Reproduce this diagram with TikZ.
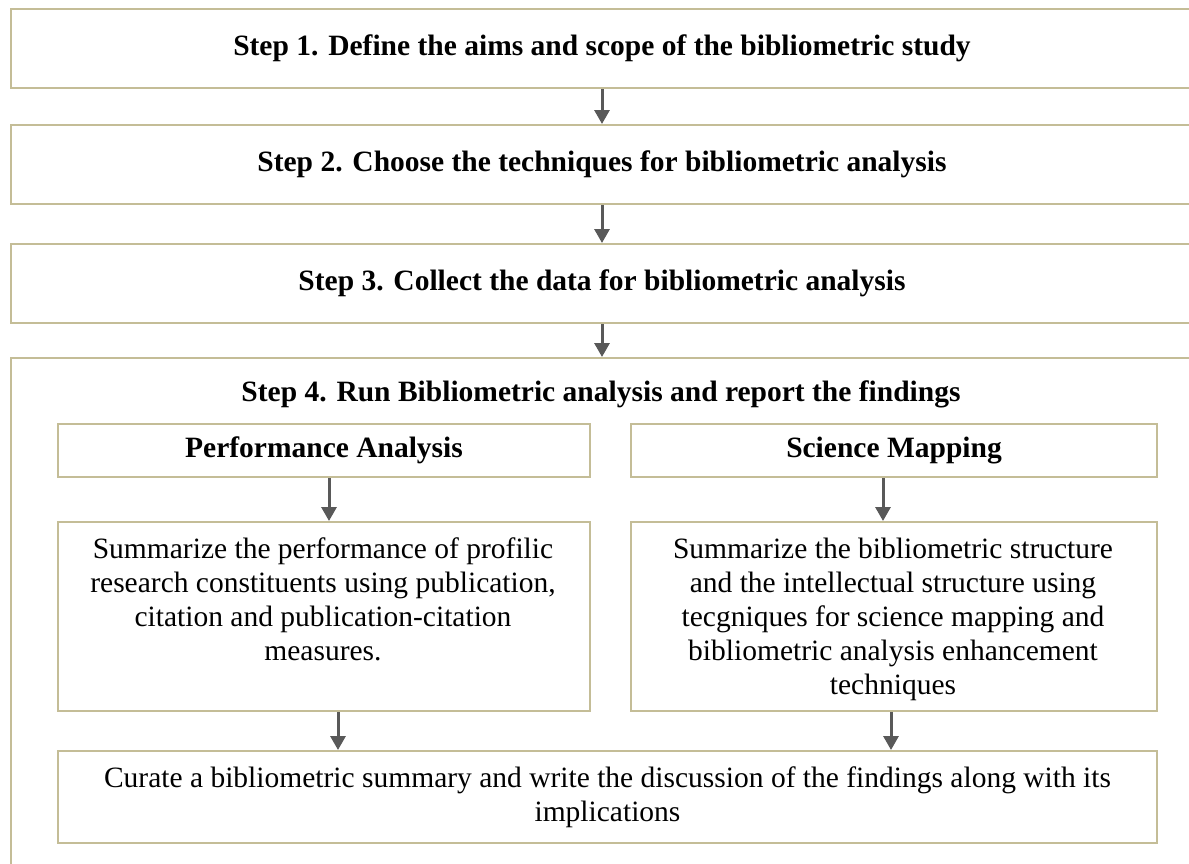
\documentclass[tikz,border=0pt]{standalone}
\usepackage{fontspec}
\setmainfont{Liberation Serif}
\usetikzlibrary{arrows.meta}
\definecolor{boxc}{HTML}{C4BD97}
\definecolor{arrc}{HTML}{595959}
\tikzset{
  box/.style={draw=boxc, line width=2pt, inner sep=0pt, anchor=north west},
  flow/.style={draw=arrc, line width=3pt, -{Triangle[length=14pt,width=15pt]}},
  ttl/.style={font=\fontsize{29.5}{34}\selectfont\bfseries},
  body/.style={font=\fontsize{29.5}{34}\selectfont, align=center, inner sep=0pt},
}
\begin{document}
\begin{tikzpicture}[x=1pt,y=-1pt]
\useasboundingbox (0,0) rectangle (1189,863);
\clip (0,0) rectangle (1189,863);
\fill[white] (0,0) rectangle (1189,863);
\node[box, ttl, minimum width=1182pt, minimum height=79pt] (b1) at (10,8) {Step 1. Define the aims and scope of the bibliometric study};
\node[box, ttl, minimum width=1182pt, minimum height=79pt] (b2) at (10,124) {Step 2. Choose the techniques for bibliometric analysis};
\node[box, ttl, minimum width=1182pt, minimum height=79pt] (b3) at (10,243) {Step 3. Collect the data for bibliometric analysis};
\node[box, minimum width=1182pt, minimum height=530pt] (b4) at (10,357) {};
\node[ttl] (t4) at (601,394) {Step 4. Run Bibliometric analysis and report the findings};
\node[box, ttl, minimum width=532pt, minimum height=53pt] (pa) at (57,423) {Performance Analysis};
\node[box, ttl, minimum width=526pt, minimum height=53pt] (sm) at (630,423) {Science Mapping};
\node[box, minimum width=532pt, minimum height=189pt] (spa) at (57,521) {};
\node[box, minimum width=526pt, minimum height=189pt] (ssm) at (630,521) {};
\node[body, anchor=north] (tpa) at (323,538) {Summarize the performance of profilic\\research constituents using publication,\\citation and publication-citation\\measures.};
\node[body, anchor=north] (tsm) at (893,538) {Summarize the bibliometric structure\\and the intellectual structure using\\tecgniques for science mapping and\\bibliometric analysis enhancement\\techniques};
\node[box, body, align=center, minimum width=1099pt, minimum height=92pt] (fin) at (57,750) {Curate a bibliometric summary and write the discussion of the findings along with its\\implications};
\draw[flow] (b1.south) -- (b2.north);
\draw[flow] (b2.south) -- (b3.north);
\draw[flow] (b3.south) -- (b3.south |- b4.north);
\draw[flow] ([xshift=5pt]pa.south) -- ([xshift=5pt]spa.north);
\draw[flow] ([xshift=-11pt]sm.south) -- ([xshift=-11pt]ssm.north);
\draw[flow] ([xshift=14pt]spa.south) -- ([xshift=14pt]spa.south |- fin.north);
\draw[flow] ([xshift=-3pt]ssm.south) -- ([xshift=-3pt]ssm.south |- fin.north);
\end{tikzpicture}
\end{document}
